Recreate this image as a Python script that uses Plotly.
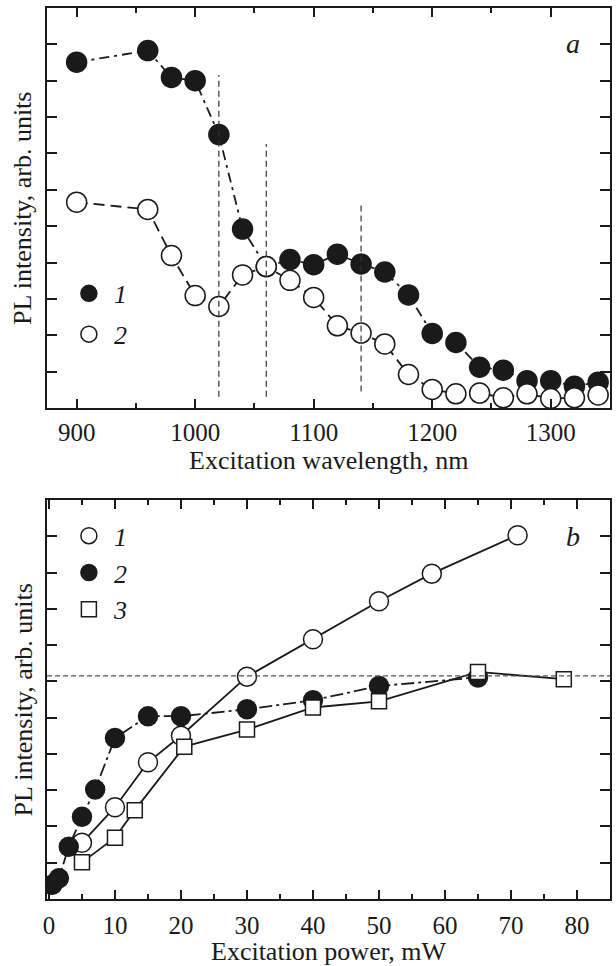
import plotly.graph_objects as go

# ---------- data: panel a ----------
wavelength = [900, 960, 980, 1000, 1020, 1040, 1060, 1080, 1100, 1120, 1140,
              1160, 1180, 1200, 1220, 1240, 1260, 1280, 1300, 1320, 1340]
pl_a1 = [9.51, 9.83, 9.09, 9.00, 7.52, 4.92, 3.89, 4.08, 3.94, 4.23, 3.96,
         3.74, 3.11, 2.05, 1.80, 1.12, 1.04, 0.75, 0.75, 0.60, 0.71]
pl_a2 = [5.66, 5.46, 4.19, 3.09, 2.79, 3.66, 3.89, 3.51, 3.04, 2.26, 2.06,
         1.76, 0.92, 0.51, 0.39, 0.41, 0.28, 0.39, 0.26, 0.28, 0.36]
vline_x = [1020, 1060, 1140]
vline_top = [9.16, 7.26, 5.67]
vline_bottom = [0.31, 0.31, 0.45]

# ---------- data: panel b ----------
power1 = [5, 10, 15, 20, 30, 40, 50, 58, 71]
pl_b1 = [1.55, 2.53, 3.77, 4.50, 6.13, 7.16, 8.21, 8.97, 10.03]
power2 = [0.5, 1.5, 3, 5, 7, 10, 15, 20, 30, 40, 50, 65]
pl_b2 = [0.39, 0.57, 1.44, 2.27, 3.02, 4.44, 5.04, 5.04, 5.23, 5.48, 5.87, 6.11]
power3 = [5, 10, 13, 20.5, 30, 40, 50, 65, 78]
pl_b3 = [1.01, 1.69, 2.45, 4.20, 4.67, 5.28, 5.45, 6.26, 6.06]
hline_y = 6.15

y_ticks = [1, 2, 3, 4, 5, 6, 7, 8, 9, 10]

FONT = "Liberation Serif, Times New Roman, serif"
INK = "#1a1a1a"

fig = go.Figure()

# lines (under markers)
fig.add_trace(go.Scatter(x=wavelength, y=pl_a1, mode="lines", xaxis="x", yaxis="y",
                         line=dict(color=INK, width=1.8, dash="10px,5px,3px,5px"),
                         showlegend=False, hoverinfo="skip"))
fig.add_trace(go.Scatter(x=wavelength, y=pl_a2, mode="lines", xaxis="x", yaxis="y",
                         line=dict(color=INK, width=1.8, dash="11px,6px"),
                         showlegend=False, hoverinfo="skip"))
fig.add_trace(go.Scatter(x=power1, y=pl_b1, mode="lines", xaxis="x2", yaxis="y2",
                         line=dict(color=INK, width=1.8),
                         showlegend=False, hoverinfo="skip"))
fig.add_trace(go.Scatter(x=power2, y=pl_b2, mode="lines", xaxis="x2", yaxis="y2",
                         line=dict(color=INK, width=1.8, dash="13px,4px,3px,4px"),
                         showlegend=False, hoverinfo="skip"))
fig.add_trace(go.Scatter(x=power3, y=pl_b3, mode="lines", xaxis="x2", yaxis="y2",
                         line=dict(color=INK, width=1.8),
                         showlegend=False, hoverinfo="skip"))

# vertical dashed guide lines (panel a)
for vx, vt, vb in zip(vline_x, vline_top, vline_bottom):
    fig.add_shape(type="line", xref="x", yref="y", x0=vx, x1=vx, y0=vb, y1=vt,
                  line=dict(color="#333", width=1.2, dash="6px,4px"))
# horizontal dashed line (panel b)
fig.add_shape(type="line", xref="x2 domain", yref="y2", x0=0, x1=1, y0=hline_y, y1=hline_y,
              line=dict(color="#555", width=1.2, dash="5px,3px"))

# markers panel a
fig.add_trace(go.Scatter(x=wavelength, y=pl_a1, mode="markers", xaxis="x", yaxis="y",
                         name="1", legend="legend", legendgroup="a1",
                         marker=dict(symbol="circle", size=20, color=INK,
                                     line=dict(color=INK, width=1.5))))
fig.add_trace(go.Scatter(x=wavelength, y=pl_a2, mode="markers", xaxis="x", yaxis="y",
                         name="2", legend="legend", legendgroup="a2",
                         marker=dict(symbol="circle", size=20, color="white",
                                     line=dict(color=INK, width=1.5))))
# markers panel b
fig.add_trace(go.Scatter(x=power1, y=pl_b1, mode="markers", xaxis="x2", yaxis="y2",
                         name="1", legend="legend2", legendgroup="b1",
                         marker=dict(symbol="circle", size=19, color="white",
                                     line=dict(color=INK, width=1.5))))
fig.add_trace(go.Scatter(x=power2, y=pl_b2, mode="markers", xaxis="x2", yaxis="y2",
                         name="2", legend="legend2", legendgroup="b2",
                         marker=dict(symbol="circle", size=19, color=INK,
                                     line=dict(color=INK, width=1.5))))
fig.add_trace(go.Scatter(x=power3, y=pl_b3, mode="markers", xaxis="x2", yaxis="y2",
                         name="3", legend="legend2", legendgroup="b3",
                         marker=dict(symbol="square", size=15, color="white",
                                     line=dict(color=INK, width=1.5))))

axis_common = dict(showline=True, linecolor=INK, linewidth=2, mirror="ticks",
                   ticks="inside", tickcolor=INK, tickwidth=1.5, showgrid=False,
                   zeroline=False, tickfont=dict(family=FONT, size=25, color=INK))

legend_font = dict(family=FONT, size=26, style="italic", color=INK)

fig.update_layout(
    width=616, height=966,
    margin=dict(l=47, r=4, t=8, b=67),
    paper_bgcolor="white", plot_bgcolor="white",
    font=dict(family=FONT, color=INK),
    xaxis=dict(domain=[0, 1], anchor="y", range=[875, 1350], tick0=900, dtick=100,
               ticklen=9, ticklabelstandoff=1,
               minor=dict(dtick=50, ticks="inside", ticklen=5, tickwidth=1.5, tickcolor=INK),
               **axis_common),
    yaxis=dict(domain=[0.5511, 1], anchor="x", range=[0, 11], tickvals=y_ticks,
               showticklabels=False, ticklen=10, **axis_common),
    xaxis2=dict(domain=[0, 1], anchor="y2", range=[-0.3, 85], tick0=0, dtick=10,
                ticklen=9, ticklabelstandoff=3,
                minor=dict(dtick=5, ticks="inside", ticklen=5, tickwidth=1.5, tickcolor=INK),
                **axis_common),
    yaxis2=dict(domain=[0, 0.4478], anchor="x2", range=[0, 11], tickvals=y_ticks,
                showticklabels=False, ticklen=10, **axis_common),
    legend=dict(x=0.03, y=0.706, xref="paper", yref="paper", xanchor="left", yanchor="top",
                bgcolor="rgba(0,0,0,0)", itemwidth=40, tracegroupgap=4,
                font=legend_font),
    legend2=dict(x=0.03, y=0.434, xref="paper", yref="paper", xanchor="left", yanchor="top",
                 bgcolor="rgba(0,0,0,0)", itemwidth=40, tracegroupgap=0,
                 font=legend_font),
    annotations=[
        dict(text="PL intensity, arb. units", textangle=-90, xref="paper", yref="y domain",
             x=-0.0425, y=0.5, xanchor="center", yanchor="middle", showarrow=False,
             font=dict(family=FONT, size=26, color=INK)),
        dict(text="PL intensity, arb. units", textangle=-90, xref="paper", yref="y2 domain",
             x=-0.0425, y=0.5, xanchor="center", yanchor="middle", showarrow=False,
             font=dict(family=FONT, size=26, color=INK)),
        dict(text="Excitation wavelength, nm", xref="paper", yref="paper",
             x=0.5, y=0.4916, xanchor="center", yanchor="middle", showarrow=False,
             font=dict(family=FONT, size=26, color=INK)),
        dict(text="Excitation power, mW", xref="paper", yref="paper",
             x=0.5, y=-0.0585, xanchor="center", yanchor="middle", showarrow=False,
             font=dict(family=FONT, size=26, color=INK)),
        dict(text="a", xref="x domain", yref="y domain", x=0.934, y=0.91,
             xanchor="center", yanchor="middle", showarrow=False,
             font=dict(family=FONT, size=28, color=INK, style="italic")),
        dict(text="b", xref="x2 domain", yref="y2 domain", x=0.934, y=0.908,
             xanchor="center", yanchor="middle", showarrow=False,
             font=dict(family=FONT, size=28, color=INK, style="italic")),
    ],
)

fig.write_html("out.html")
